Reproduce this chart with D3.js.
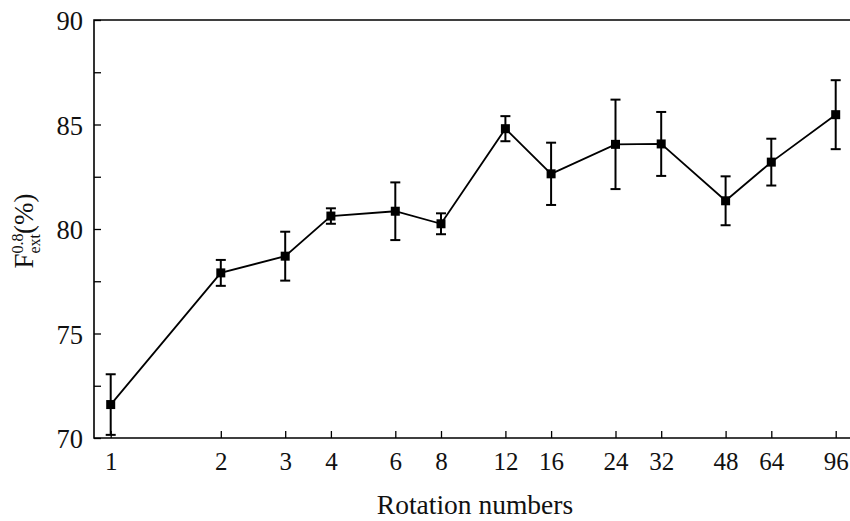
<!DOCTYPE html>
<html>
<head>
<meta charset="utf-8">
<script src="https://cdn.jsdelivr.net/npm/d3@7"></script>
<style>
  body { margin: 0; background: #fff; }
  svg text { font-family: "Liberation Serif", "Times New Roman", Times, "DejaVu Serif", serif !important; fill: #111; }
</style>
</head>
<body>
<div id="chart"></div>
<script>
// rotation numbers on the x axis
var rotations = [1, 2, 3, 4, 6, 8, 12, 16, 24, 32, 48, 64, 96];
// mean F_ext^0.8 (%) and error bar half-widths
var fext = [71.6, 77.9, 78.7, 80.62, 80.85, 80.25, 84.8, 82.64, 84.05, 84.07, 81.35, 83.2, 85.47];
var errs = [1.45, 0.62, 1.17, 0.37, 1.38, 0.5, 0.6, 1.49, 2.14, 1.53, 1.17, 1.12, 1.65];
var yTicks = [70, 75, 80, 85, 90];

(function() {
  var width = 850, height = 521;
  var left = 94, top = 20, bottom = 438, right = 852;

  var svg = d3.select("#chart")
    .append("svg")
    .attr("width", width)
    .attr("height", height);

  var x = d3.scaleLog().base(2)
    .domain([1, 96])
    .range([110.7, 835.7]);

  var y = d3.scaleLinear()
    .domain([70, 90])
    .range([bottom, top]);

  var data = rotations.map(function(r, i) {
    return { r: r, v: fext[i], e: errs[i] };
  });

  // frame: left, top, bottom
  svg.append("path")
    .attr("d", "M" + right + "," + top + "H" + left + "V" + bottom + "H" + right)
    .attr("fill", "none")
    .attr("stroke", "#000")
    .attr("stroke-width", 1.6);

  // y axis (ticks pointing in)
  var yAxis = d3.axisLeft(y)
    .tickValues(d3.range(70, 90.1, 2.5))
    .tickSize(-7)
    .tickFormat(function(d) { return yTicks.indexOf(d) >= 0 ? d : ""; });

  var yg = svg.append("g")
    .attr("transform", "translate(" + left + ",0)")
    .call(yAxis)
    .attr("font-family", null);
  yg.select(".domain").remove();
  yg.selectAll(".tick line").attr("stroke", "#000").attr("stroke-width", 1.3);
  yg.selectAll(".tick text")
    .attr("x", -11)
    .attr("dy", "0.36em")
    .style("font-size", "26.5px");

  // x axis
  var xAxis = d3.axisBottom(x)
    .tickValues(rotations)
    .tickSize(-7)
    .tickFormat(d3.format("d"));

  var xg = svg.append("g")
    .attr("transform", "translate(0," + bottom + ")")
    .call(xAxis)
    .attr("font-family", null);
  xg.select(".domain").remove();
  xg.selectAll(".tick line").attr("stroke", "#000").attr("stroke-width", 1.3);
  xg.selectAll(".tick text")
    .attr("y", 14)
    .attr("dy", "0.71em")
    .style("font-size", "25px");

  // line
  var line = d3.line()
    .x(function(d) { return x(d.r); })
    .y(function(d) { return y(d.v); });

  svg.append("path")
    .datum(data)
    .attr("d", line)
    .attr("fill", "none")
    .attr("stroke", "#000")
    .attr("stroke-width", 1.8);

  // error bars
  var eb = svg.selectAll(".err")
    .data(data)
    .enter().append("g")
    .attr("class", "err");

  eb.append("line")
    .attr("x1", function(d) { return x(d.r); })
    .attr("x2", function(d) { return x(d.r); })
    .attr("y1", function(d) { return y(d.v - d.e); })
    .attr("y2", function(d) { return y(d.v + d.e); })
    .attr("stroke", "#000")
    .attr("stroke-width", 2);

  [-1, 1].forEach(function(s) {
    eb.append("line")
      .attr("x1", function(d) { return x(d.r) - 5; })
      .attr("x2", function(d) { return x(d.r) + 5; })
      .attr("y1", function(d) { return y(d.v + s * d.e); })
      .attr("y2", function(d) { return y(d.v + s * d.e); })
      .attr("stroke", "#000")
      .attr("stroke-width", 2);
  });

  // square markers
  svg.selectAll(".pt")
    .data(data)
    .enter().append("rect")
    .attr("class", "pt")
    .attr("x", function(d) { return x(d.r) - 4.5; })
    .attr("y", function(d) { return y(d.v) - 4.5; })
    .attr("width", 9)
    .attr("height", 9)
    .attr("fill", "#000");

  // axis titles
  svg.append("text")
    .attr("x", 475)
    .attr("y", 514)
    .attr("text-anchor", "middle")
    .style("font-size", "27.5px")
    .text("Rotation numbers");

  var yt = svg.append("text")
    .attr("transform", "translate(33,231) rotate(-90)")
    .attr("text-anchor", "middle")
    .style("font-size", "27px");
  yt.append("tspan").text("F");
  yt.append("tspan").attr("dy", -10).style("font-size", "16px").text("0.8");
  yt.append("tspan").attr("dx", -20).attr("dy", 17).style("font-size", "16px").text("ext");
  yt.append("tspan").attr("dy", -7).text("(%)");
})();
</script>
</body>
</html>
